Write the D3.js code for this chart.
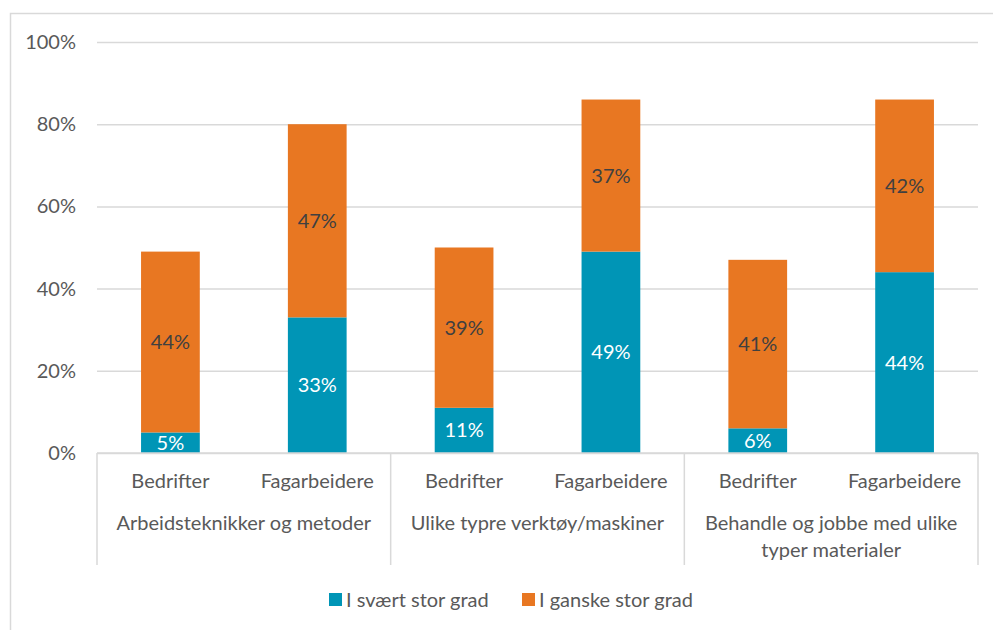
<!DOCTYPE html>
<html>
<head>
<meta charset="utf-8">
<script src="https://cdn.jsdelivr.net/npm/d3@7"></script>
<style>
  html, body { margin: 0; padding: 0; background: #fff; }
  svg { display: block; font-family: "Lato", "Noto Sans", sans-serif; }
</style>
</head>
<body>
<svg id="chart" width="993" height="630"></svg>
<script>
// Data
const groups = ["Arbeidsteknikker og metoder", "Ulike typre verktøy/maskiner", "Behandle og jobbe med ulike typer materialer"];
const groupLines = [["Arbeidsteknikker og metoder"], ["Ulike typre verktøy/maskiner"], ["Behandle og jobbe med ulike", "typer materialer"]];
const subCategories = ["Bedrifter", "Fagarbeidere"];
const seriesNames = ["I svært stor grad", "I ganske stor grad"];
const sværtStor = [5, 33, 11, 49, 6, 44];
const ganskeStor = [44, 47, 39, 37, 41, 42];
const yTicks = [0, 20, 40, 60, 80, 100];
const colors = ["#0095B6", "#E87722"];

const svg = d3.select("#chart");
const y0 = 453;
const fs = "20px";

// Chart frame
svg.append("rect").attr("x", 10.5).attr("y", 13.5).attr("width", 1000).attr("height", 700)
  .attr("fill", "none").attr("stroke", "#d9d9d9").attr("stroke-width", 1.5);

const y = d3.scaleLinear().domain([0, 100]).range([y0, 42]);

// Flat bar list
const bars = [];
groups.forEach((g, gi) => subCategories.forEach((s, si) => {
  const i = gi * 2 + si;
  bars.push({ key: i, group: gi, sub: s, "I svært stor grad": sværtStor[i], "I ganske stor grad": ganskeStor[i] });
}));

const xGroup = d3.scaleBand().domain(d3.range(groups.length)).range([97, 978]).paddingInner(0).paddingOuter(0);
const xSub = d3.scaleBand().domain(subCategories).range([0, xGroup.bandwidth()]).paddingInner(0.6).paddingOuter(0.3);

// Grid lines + y axis labels
const yAxis = d3.axisLeft(y).tickValues(yTicks).tickFormat(d => d + "%").tickSize(-(978 - 97)).tickPadding(21);
const ya = svg.append("g").attr("transform", "translate(97,0)").call(yAxis);
ya.select(".domain").remove();
ya.selectAll(".tick line").attr("stroke", "#d9d9d9").attr("stroke-width", 1.5);
ya.selectAll(".tick text").attr("fill", "#595959").style("font-size", fs).style("font-family", "Lato");

// Stacked bars
const stack = d3.stack().keys(seriesNames);
const stacked = stack(bars);

const layer = svg.append("g").selectAll("g").data(stacked).join("g")
  .attr("fill", (d, i) => colors[i]);
layer.selectAll("rect").data(d => d.map(v => ({ v, d: v.data }))).join("rect")
  .attr("x", p => xGroup(p.d.group) + xSub(p.d.sub))
  .attr("width", xSub.bandwidth())
  .attr("y", p => y(p.v[1]))
  .attr("height", p => y(p.v[0]) - y(p.v[1]));

// Value labels
stacked.forEach((s, si) => {
  svg.append("g").selectAll("text").data(s).join("text")
    .attr("x", v => xGroup(v.data.group) + xSub(v.data.sub) + xSub.bandwidth() / 2)
    .attr("y", v => (y(v[0]) + y(v[1])) / 2)
    .attr("dy", "0.35em")
    .attr("text-anchor", "middle")
    .attr("fill", si === 0 ? "#ffffff" : "#404040")
    .style("font-size", fs)
    .text(v => (v[1] - v[0]) + "%");
});

// Category axis: baseline and separators
const axisG = svg.append("g");
axisG.append("line").attr("x1", 97).attr("x2", 978).attr("y1", y0).attr("y2", y0)
  .attr("stroke", "#d9d9d9").attr("stroke-width", 1.5);
[0, 1, 2, 3].forEach(i => {
  const x = i < 3 ? xGroup(i) : 978;
  axisG.append("line").attr("x1", x).attr("x2", x).attr("y1", y0).attr("y2", 565)
    .attr("stroke", "#d9d9d9").attr("stroke-width", 1.5);
});
bars.forEach(b => {
  axisG.append("text")
    .attr("x", xGroup(b.group) + xSub(b.sub) + xSub.bandwidth() / 2)
    .attr("y", 488)
    .attr("text-anchor", "middle").attr("fill", "#595959").style("font-size", fs)
    .text(b.sub);
});
groupLines.forEach((lines, gi) => {
  lines.forEach((ln, li) => {
    axisG.append("text")
      .attr("x", xGroup(gi) + xGroup.bandwidth() / 2)
      .attr("y", 530 + li * 27)
      .attr("text-anchor", "middle").attr("fill", "#595959").style("font-size", fs)
      .text(ln);
  });
});

// Legend
const legendX = [329, 522];
const lg = svg.append("g");
seriesNames.forEach((n, i) => {
  lg.append("rect").attr("x", legendX[i]).attr("y", 593).attr("width", 13).attr("height", 13).attr("fill", colors[i]);
  lg.append("text").attr("x", legendX[i] + 17).attr("y", 607).attr("fill", "#595959").style("font-size", fs).text(n);
});
</script>
</body>
</html>
